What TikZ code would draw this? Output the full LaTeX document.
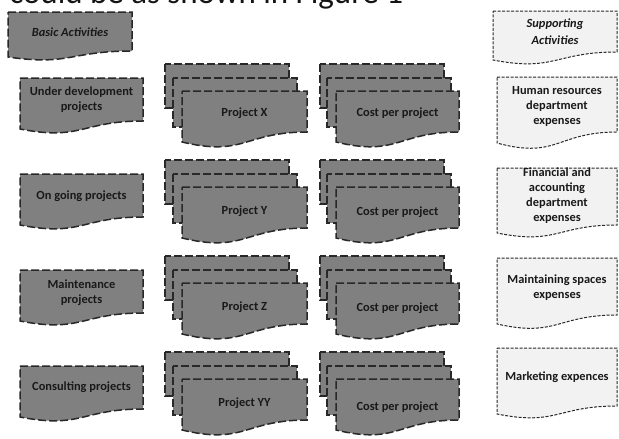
\documentclass[tikz,border=0pt]{standalone}
\usepackage{fontspec}
\setmainfont{Carlito}

\tikzset{every picture/.style={line width=0.75pt}}
\tikzset{
  dkbox/.style={draw={rgb, 255:red, 40; green, 40; blue, 40}, fill={rgb, 255:red, 128; green, 128; blue, 128}, line width=1.5pt, dash pattern=on 8pt off 3pt},
  ltbox/.style={draw={rgb, 255:red, 40; green, 40; blue, 40}, fill={rgb, 255:red, 242; green, 242; blue, 242}, line width=1pt, dash pattern=on 3pt off 1.5pt},
  txt/.style={inner sep=0.75pt, align=center, font=\bfseries\fontsize{12.4}{15}\selectfont, text={rgb, 255:red, 25; green, 25; blue, 25}},
  hdtxt/.style={txt, font=\bfseries\itshape\fontsize{12.4}{17}\selectfont}
}
% document shape: x1, top, x2, right bottom, left bottom
\def\docshape#1#2#3#4#5{(#1,#2) -- (#3,#2) -- (#3,#4) .. controls ({((#1)+(#3))/2},#4) and ({((#1)+(#3))/2},{(#4)+2.5*((#5)-(#4))}) .. (#1,#5) -- cycle}
\def \yA {64}
\def \yB {160}
\def \yC {256}
\def \yD {352}
\def \xLeft {81.5}
\def \xProj {244.5}
\def \xCost {397.5}
\def \xSup {557}

\begin{document}
\begin{tikzpicture}[x=1pt,y=1pt,yscale=-1,xscale=1]
	\useasboundingbox (0,0) rectangle (619,439);
	\clip (0,0) rectangle (619,439);

	% Text Node (cut off at the top)
	\draw (9,4) node (intro) [anchor=base west, inner sep=0pt, font=\fontsize{33}{36}\selectfont, text={rgb, 255:red, 20; green, 20; blue, 20}] {could be as shown in Figure 1};

	%Shape: Document [Basic Activities]
	\draw [dkbox] \docshape{8}{12}{132}{51}{57};
	%Shape: Document [Supporting Activities]
	\draw [ltbox] \docshape{493}{11}{617}{52}{60};

	%Shape: Document [left column]
	\draw [dkbox] \docshape{20}{\yA+14}{143}{\yA+57}{\yA+65};
	\draw [dkbox] \docshape{20}{\yB+14}{143}{\yB+57}{\yB+65};
	\draw [dkbox] \docshape{20}{\yC+14}{143}{\yC+57}{\yC+65};
	\draw [dkbox] \docshape{20}{\yD+14}{143}{\yD+57}{\yD+65};

	%Shape: Multidocument [projects]
	\draw [dkbox] (165,\yA) rectangle (289,\yA+44);
	\draw [dkbox] (173,\yA+14) rectangle (297,\yA+63);
	\draw [dkbox] \docshape{182}{\yA+27}{307}{\yA+68}{\yA+78};
	\draw [dkbox] (165,\yB) rectangle (289,\yB+44);
	\draw [dkbox] (173,\yB+14) rectangle (297,\yB+63);
	\draw [dkbox] \docshape{182}{\yB+27}{307}{\yB+68}{\yB+78};
	\draw [dkbox] (165,\yC) rectangle (289,\yC+44);
	\draw [dkbox] (173,\yC+14) rectangle (297,\yC+63);
	\draw [dkbox] \docshape{182}{\yC+27}{307}{\yC+68}{\yC+78};
	\draw [dkbox] (165,\yD) rectangle (289,\yD+44);
	\draw [dkbox] (173,\yD+14) rectangle (297,\yD+63);
	\draw [dkbox] \docshape{182}{\yD+27}{307}{\yD+68}{\yD+78};

	%Shape: Multidocument [costs]
	\draw [dkbox] (320,\yA) rectangle (444,\yA+44);
	\draw [dkbox] (327,\yA+14) rectangle (451,\yA+63);
	\draw [dkbox] \docshape{336}{\yA+27}{459}{\yA+68}{\yA+78};
	\draw [dkbox] (320,\yB) rectangle (444,\yB+44);
	\draw [dkbox] (327,\yB+14) rectangle (451,\yB+63);
	\draw [dkbox] \docshape{336}{\yB+27}{459}{\yB+68}{\yB+78};
	\draw [dkbox] (320,\yC) rectangle (444,\yC+44);
	\draw [dkbox] (327,\yC+14) rectangle (451,\yC+63);
	\draw [dkbox] \docshape{336}{\yC+27}{459}{\yC+68}{\yC+78};
	\draw [dkbox] (320,\yD) rectangle (444,\yD+44);
	\draw [dkbox] (327,\yD+14) rectangle (451,\yD+63);
	\draw [dkbox] \docshape{336}{\yD+27}{459}{\yD+68}{\yD+78};

	%Shape: Document [supporting column]
	\draw [ltbox] \docshape{497}{77}{617}{132}{143};
	\draw [ltbox] \docshape{497}{168}{617}{225}{233};
	\draw [ltbox] \docshape{497}{258}{617}{315}{324};
	\draw [ltbox] \docshape{497}{348}{617}{406}{414};

	% Text Node
	\draw (70,32) node (basicTxt) [hdtxt] {Basic Activities};
	% Text Node
	\draw (555,32) node (supTxt) [hdtxt] {Supporting\\Activities};

	% Text Node
	\draw (\xLeft,\yA+36) node (undevTxt) [txt] {Under development\\projects};
	% Text Node
	\draw (\xLeft,\yB+36) node (ongoTxt) [txt] {On going projects};
	% Text Node
	\draw (\xLeft,\yC+37) node (maintTxt) [txt] {Maintenance\\projects};
	% Text Node
	\draw (\xLeft,\yD+35) node (consTxt) [txt] {Consulting projects};

	% Text Node
	\draw (\xProj,\yA+49) node (projX) [txt] {Project X};
	% Text Node
	\draw (\xProj,\yB+51) node (projY) [txt] {Project Y};
	% Text Node
	\draw (\xProj,\yC+51) node (projZ) [txt] {Project Z};
	% Text Node
	\draw (\xProj,\yD+51) node (projYY) [txt] {Project YY};

	% Text Node
	\draw (\xCost,\yA+49) node (costA) [txt] {Cost per project};
	% Text Node
	\draw (\xCost,\yB+52) node (costB) [txt] {Cost per project};
	% Text Node
	\draw (\xCost,\yC+52) node (costC) [txt] {Cost per project};
	% Text Node
	\draw (\xCost,\yD+55) node (costD) [txt] {Cost per project};

	% Text Node
	\draw (\xSup,106) node (hrTxt) [txt] {Human resources\\department\\expenses};
	% Text Node
	\draw (\xSup,196) node (finTxt) [txt] {Financial and\\accounting\\department\\expenses};
	% Text Node
	\draw (\xSup,288) node (spaceTxt) [txt] {Maintaining spaces\\expenses};
	% Text Node
	\draw (\xSup,377) node (mktTxt) [txt] {Marketing expences};

\end{tikzpicture}
\end{document}
